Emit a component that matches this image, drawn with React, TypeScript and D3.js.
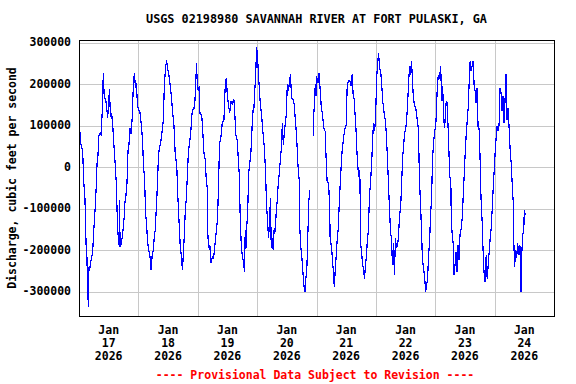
import React, { useEffect, useRef } from "react";
import * as d3 from "d3";

const title = "USGS 02198980 SAVANNAH RIVER AT FORT PULASKI, GA";
const yTitle = "Discharge, cubic feet per second";
const footer = "---- Provisional Data Subject to Revision ----";

const startDate = new Date(Date.UTC(2026, 0, 17));
const dayCount = 8;
const dayLabels = ["17", "18", "19", "20", "21", "22", "23", "24"];
const monthLabel = "Jan";
const yearLabel = "2026";
const yTicks = [-300000, -200000, -100000, 0, 100000, 200000, 300000];
const yDomain = [-358000, 307000];

// [hours since Jan 17 00:00, discharge in thousand cfs]; null = missing
const readings: [number, number | null][] = [
  [0.1, 131], [0.3, 91], [0.8, 55], [1.5, 39], [1.9, -34], [2.4, -74], [2.8, -170], [3.0, -210],
  [3.2, -215], [3.4, -275], [3.8, -336], [4.0, -240], [4.2, -250], [4.8, -225], [5.5, -207],
  [5.9, -159], [6.5, -102], [6.9, -54], [7.3, 10], [7.7, 31], [7.9, 75], [8.5, 83], [8.9, 80],
  [9.3, 123], [9.6, 164], [9.8, 228], [10.2, 170], [10.9, 160], [11.6, 120], [12.3, 188],
  [12.7, 125], [13.2, 130], [13.7, 95], [14.1, 55], [14.7, 2], [15.1, -42], [15.5, -127],
  [15.9, -175], [16.3, -191], [16.4, -78], [16.6, -191], [16.8, -191], [17.2, -179], [17.6, -163],
  [18.2, -125], [18.6, -82], [19.0, -66], [19.4, -38], [19.8, 39], [20.2, 55], [20.6, 95],
  [21.0, 80], [21.5, 119], [22.0, 204], [22.4, 228], [22.8, 192], [23.2, 204], [23.6, 155],
  [24.0, 139], [24.6, 135], [25.2, 103], [25.7, 63], [26.1, -2], [26.5, -22], [26.9, -110],
  [27.3, -135], [27.7, -179], [28.3, -203], [28.7, -215], [29.1, -247], [29.6, -211], [30.0, -199],
  [30.4, -171], [30.8, -151], [31.3, -94], [31.7, -42], [32.1, 27], [32.5, 47], [33.0, 59],
  [33.5, 83], [34.1, 115], [34.5, 200], [35.0, 240], [35.4, 258], [35.8, 240], [36.4, 220],
  [36.9, 196], [37.4, 168], [37.8, 135], [38.4, 99], [38.9, 31], [39.5, 6], [39.9, -62],
  [40.4, -127], [40.9, -187], [41.4, -215], [41.8, -247], [42.2, -207], [42.6, -159], [43.0, -98],
  [43.4, -74], [43.8, -18], [44.2, 35], [44.6, 55], [45.1, 79], [45.7, 131], [46.2, 143],
  [46.7, 143], [47.1, 188], [47.5, 252], [47.9, 188], [48.5, 192], [48.9, 130], [49.6, 127],
  [50.1, 79], [50.5, 35], [51.0, 19], [51.4, -26], [51.9, -54], [52.0, -151], [52.4, -195],
  [52.9, -187], [53.3, -231], [53.9, -215], [54.4, -219], [54.8, -195], [55.2, -171], [55.6, -147],
  [56.0, -123], [56.4, -42], [56.8, 55], [57.4, 75], [57.9, 107], [58.6, 115], [59.0, 184],
  [59.5, 216], [59.9, 180], [60.3, 155], [60.9, 131], [61.4, 160], [61.9, 152], [62.6, 164],
  [63.0, 127], [63.4, 79], [64.0, 63], [64.4, 19], [64.8, -18], [65.2, -131], [65.7, -199],
  [66.1, -215], [66.5, -227], [66.9, -251], [67.2, -151], [67.5, -195], [67.7, -155], [68.2, -102],
  [68.6, -14], [69.0, 10], [69.4, 27], [69.8, 71], [70.2, 139], [70.6, 131], [71.0, 180],
  [71.4, 220], [71.8, 289], [72.1, 272], [72.5, 228], [72.9, 188], [73.3, 152], [73.8, 127],
  [74.2, 95], [74.6, 71], [75.0, 39], [75.4, -10], [75.8, -90], [76.2, -127], [76.6, -171],
  [77.0, -135], [77.4, -74], [77.7, -195], [78.1, -171], [78.5, -199], [78.9, -147], [79.3, -155],
  [79.7, -110], [80.1, -82], [80.5, -42], [80.9, -18], [81.4, 19], [81.8, 47], [82.2, 107],
  [82.6, 55], [83.0, 83], [83.4, 107], [83.8, 127], [84.2, 200], [84.7, 184], [85.1, 208],
  [85.5, 224], [85.9, 168], [86.5, 164], [87.0, 152], [87.5, 111], [88.0, 71], [88.5, 6],
  [89.0, -30], [89.3, -151], [89.7, -195], [90.1, -219], [90.5, -251], [90.9, -284], [91.3, -300],
  [91.7, -268], [92.1, -243], [92.5, -163], [92.9, -82], [93.3, -54], [94.0, null], [94.7, 75],
  [94.9, 131], [95.2, 152], [95.5, 200], [95.8, 172], [96.0, 220], [96.6, 204], [97.0, 228],
  [97.4, 196], [97.9, 148], [98.4, 127], [99.0, 95], [99.5, 87], [99.9, 19], [100.3, -34],
  [100.9, -38], [101.3, -94], [101.5, -167], [102.0, -191], [102.4, -215], [102.8, -251],
  [103.2, -288], [103.6, -243], [104.0, -211], [104.4, -171], [104.8, -147], [105.2, -86],
  [105.6, -38], [106.0, 6], [106.4, 43], [106.8, 63], [107.2, 83], [107.6, 95], [108.0, 103],
  [108.4, 196], [108.9, 208], [109.5, 208], [110.0, 196], [110.4, 224], [110.8, 176], [111.2, 164],
  [111.6, 127], [112.0, 87], [112.4, 31], [112.9, -14], [113.3, -26], [113.5, -6], [113.9, -187],
  [114.3, -211], [114.7, -235], [115.1, -251], [115.4, -268], [115.8, -235], [116.2, -211],
  [116.6, -171], [117.0, -151], [117.4, -66], [117.8, -42], [118.2, 2], [118.6, 51], [119.0, 107],
  [119.5, 87], [119.9, 123], [120.3, 212], [120.7, 252], [121.1, 276], [121.5, 240], [121.9, 232],
  [122.3, 208], [122.7, 164], [123.1, 143], [123.5, 123], [123.9, 111], [124.3, 71], [124.7, 19],
  [125.1, -42], [125.5, -98], [125.9, -155], [126.3, -171], [126.7, -235], [127.1, -183],
  [127.5, -260], [127.9, -171], [128.3, -195], [128.7, -187], [129.1, -171], [129.6, -114],
  [130.0, -98], [130.4, -42], [130.8, 23], [131.2, 51], [131.6, 83], [132.0, 91], [132.4, 111],
  [132.8, 152], [133.2, 200], [133.6, 244], [134.0, 224], [134.4, 256], [134.8, 208], [135.2, 164],
  [135.6, 152], [136.2, 139], [136.7, 115], [137.2, 91], [137.6, -26], [138.0, -82], [138.4, -143],
  [138.8, -219], [139.3, -247], [139.7, -260], [140.1, -300], [140.5, -284], [140.9, -268],
  [141.3, -211], [141.7, -183], [142.1, -114], [142.5, -78], [142.9, 19], [143.3, 59], [143.7, 83],
  [143.9, 91], [144.3, 111], [144.8, 188], [145.2, 220], [145.7, 216], [146.2, 244], [146.6, 160],
  [147.0, 196], [147.4, 119], [147.8, 95], [148.3, 152], [148.7, 160], [149.1, 111], [149.5, 43],
  [149.9, -22], [150.3, -34], [150.5, -135], [150.9, -163], [151.4, -191], [151.6, -260],
  [152.0, -235], [152.4, -203], [152.8, -251], [153.2, -187], [153.6, -223], [154.0, -163],
  [154.4, -151], [154.9, -123], [155.3, -70], [155.7, -18], [156.1, 35], [156.5, 79], [156.9, 111],
  [157.3, 143], [157.7, 204], [158.1, 256], [158.5, 232], [158.9, 244], [159.3, 256], [159.7, 200],
  [160.1, 184], [160.5, 156], [160.9, 192], [161.3, 99], [161.7, 95], [162.1, 27], [162.5, -74],
  [162.9, -123], [163.3, -195], [163.7, -251], [164.1, -276], [164.6, -211], [165.0, -268],
  [165.4, -235], [165.8, -203], [166.2, -171], [166.6, -147], [167.0, -102], [167.4, -54],
  [167.8, -10], [168.2, 35], [168.6, 71], [169.0, 99], [169.4, 87], [169.8, 103], [170.2, 192],
  [170.6, 180], [171.0, 135], [171.4, 172], [171.8, 107], [172.2, 160], [172.6, 224], [173.0, 115],
  [173.4, 143], [173.8, 103], [174.3, 39], [174.7, 10], [175.1, -38], [175.5, -82], [175.7, -171],
  [176.1, -239], [176.5, -199], [176.9, -219], [177.3, -183], [177.8, -211], [178.2, -187],
  [178.6, -251], [178.7, -300], [179.0, -203], [179.4, -163], [179.8, -147], [180.0, -102],
  [180.4, -114],
];

const font = "'DejaVu Sans Mono', monospace";

export default function App() {
  const ref = useRef<SVGSVGElement>(null);

  useEffect(() => {
    const width = 576, height = 384;
    const left = 79, right = 554, top = 40, bottom = 316;

    const svg = d3.select(ref.current);
    svg.selectAll("*").remove();
    svg.attr("width", width).attr("height", height);

    const endDate = d3.utcDay.offset(startDate, dayCount);
    const x = d3.scaleUtc().domain([startDate, endDate]).range([left, right]);
    const y = d3.scaleLinear().domain(yDomain).range([bottom, top]);
    const toDate = (h: number) => new Date(startDate.getTime() + h * 3600 * 1000);

    svg.append("rect")
      .attr("width", width).attr("height", height).attr("fill", "#fff");

    // grid
    const grid = svg.append("g").attr("shape-rendering", "crispEdges")
      .attr("stroke", "#c8c8c8").attr("stroke-width", 1);
    grid.selectAll("line.h")
      .data(yTicks)
      .enter().append("line")
      .attr("x1", left).attr("x2", right)
      .attr("y1", (d) => Math.round(y(d)) + 0.5)
      .attr("y2", (d) => Math.round(y(d)) + 0.5);
    grid.selectAll("line.v")
      .data(d3.utcDay.range(d3.utcDay.offset(startDate, 1), endDate))
      .enter().append("line")
      .attr("x1", (d) => Math.round(x(d)) + 0.5)
      .attr("x2", (d) => Math.round(x(d)) + 0.5)
      .attr("y1", top).attr("y2", bottom);

    // data line
    svg.append("clipPath").attr("id", "plot-clip")
      .append("rect")
      .attr("x", left).attr("y", top)
      .attr("width", right - left).attr("height", bottom - top);

    const line = d3.line<[number, number | null]>()
      .defined((d) => d[1] !== null)
      .x((d) => x(toDate(d[0])))
      .y((d) => y((d[1] as number) * 1000));

    svg.append("path")
      .datum(readings)
      .attr("clip-path", "url(#plot-clip)")
      .attr("fill", "none")
      .attr("stroke", "#0000ff")
      .attr("stroke-width", 1.2)
      .attr("shape-rendering", "crispEdges")
      .attr("d", line);

    // frame
    svg.append("rect")
      .attr("x", left + 0.5).attr("y", top + 0.5)
      .attr("width", right - left).attr("height", bottom - top)
      .attr("fill", "none").attr("stroke", "#000").attr("stroke-width", 1)
      .attr("shape-rendering", "crispEdges");

    const txt = svg.append("g")
      .attr("font-family", font).attr("font-weight", "bold").attr("fill", "#000");

    txt.append("text")
      .attr("x", (left + right) / 2).attr("y", 19)
      .attr("text-anchor", "middle").attr("dominant-baseline", "middle")
      .attr("font-size", 11.8)
      .text(title);

    txt.selectAll("text.ytick")
      .data(yTicks)
      .enter().append("text")
      .attr("x", 71).attr("y", (d) => y(d))
      .attr("text-anchor", "end").attr("dominant-baseline", "middle")
      .attr("font-size", 11.5)
      .text((d) => String(d));

    txt.append("text")
      .attr("transform", `translate(12,${(top + bottom) / 2}) rotate(-90)`)
      .attr("text-anchor", "middle").attr("dominant-baseline", "middle")
      .attr("font-size", 11.5)
      .text(yTitle);

    const xl = txt.selectAll("g.xtick")
      .data(dayLabels)
      .enter().append("g")
      .attr("transform", (d, i) => `translate(${x(toDate(i * 24 + 12))},0)`)
      .attr("text-anchor", "middle").attr("font-size", 11.5);
    [monthLabel, null, yearLabel].forEach((lab, k) => {
      xl.append("text")
        .attr("y", 330 + k * 13)
        .attr("dominant-baseline", "middle")
        .text((d) => (lab === null ? d : lab));
    });

    svg.append("text")
      .attr("x", 315).attr("y", 375)
      .attr("text-anchor", "middle").attr("dominant-baseline", "middle")
      .attr("font-family", font).attr("font-weight", "bold")
      .attr("font-size", 11.5).attr("fill", "#ff0000")
      .text(footer);
  }, []);

  return <svg ref={ref} style={{ position: "absolute", left: 0, top: 0 }} />;
}
